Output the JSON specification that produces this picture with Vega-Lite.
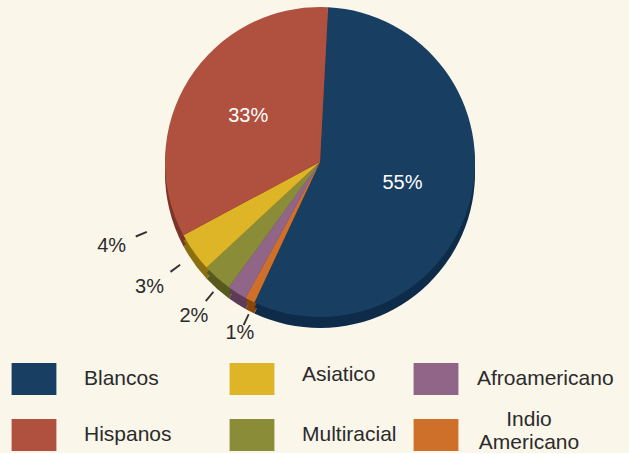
{
  "$schema": "https://vega.github.io/schema/vega-lite/v6.json",
  "width": 640,
  "height": 324,
  "padding": 0,
  "background": "#FAF6EA",
  "config": {"view": {"stroke": null}, "font": "Liberation Sans"},
  "data": {"values": [
    {"grupo": "Blancos", "value": 55, "order": 1},
    {"grupo": "Indio Americano", "value": 1, "order": 2},
    {"grupo": "Afroamericano", "value": 2, "order": 3},
    {"grupo": "Multiracial", "value": 3, "order": 4},
    {"grupo": "Asiatico", "value": 4, "order": 5},
    {"grupo": "Hispanos", "value": 33, "order": 6}
  ]},
  "transform": [
    {"window": [{"op": "sum", "field": "value", "as": "cum"}], "sort": [{"field": "order"}], "frame": [null, 0]},
    {"joinaggregate": [{"op": "sum", "field": "value", "as": "total"}]},
    {"calculate": "3 + datum.cum / datum.total * 360", "as": "a1"},
    {"calculate": "3 + (datum.cum - datum.value) / datum.total * 360", "as": "a0"},
    {"calculate": "(datum.a0 + datum.a1) / 2", "as": "mid"},
    {"calculate": "datum.value >= 10 ? datum.mid : 248 - (5 - datum.order) * 14.3", "as": "lab"},
    {"calculate": "1 / sqrt(pow(sin(datum.lab * PI / 180) / 235, 2) + pow(cos(datum.lab * PI / 180) / 182, 2))", "as": "lr"},
    {"calculate": "max(datum.lr - 38, 168)", "as": "li"},
    {"calculate": "datum.li + 12", "as": "lo"},
    {"calculate": "datum.lab - 0.3", "as": "l0"},
    {"calculate": "datum.lab + 0.3", "as": "l1"},
    {"calculate": "datum.value + '%'", "as": "txt"}
  ],
  "resolve": {"scale": {"color": "independent"}, "legend": {"color": "independent"}},
  "layer": [
    {
      "mark": {"type": "arc", "radius": 155, "yOffset": 11},
      "encoding": {
        "theta": {"field": "a0", "type": "quantitative", "scale": {"domain": [0, 360], "range": [0, 6.2832]}},
        "theta2": {"field": "a1"},
        "color": {"field": "grupo", "type": "nominal", "legend": null,
          "scale": {"domain": ["Blancos", "Asiatico", "Afroamericano", "Hispanos", "Multiracial", "Indio Americano"],
                    "range": ["#0E2C4A", "#8C7010", "#5E3C57", "#7C3428", "#565A1E", "#8A4508"]}}
      }
    },
    {
      "mark": {"type": "arc", "radius": 155, "yOffset": 5},
      "encoding": {
        "theta": {"field": "a0", "type": "quantitative", "scale": {"domain": [0, 360], "range": [0, 6.2832]}},
        "theta2": {"field": "a1"},
        "color": {"field": "grupo", "type": "nominal", "legend": null,
          "scale": {"domain": ["Blancos", "Asiatico", "Afroamericano", "Hispanos", "Multiracial", "Indio Americano"],
                    "range": ["#0E2C4A", "#8C7010", "#5E3C57", "#7C3428", "#565A1E", "#8A4508"]}}
      }
    },
    {
      "mark": {"type": "arc", "radius": 155},
      "encoding": {
        "theta": {"field": "a0", "type": "quantitative", "scale": {"domain": [0, 360], "range": [0, 6.2832]}},
        "theta2": {"field": "a1"},
        "color": {"field": "grupo", "type": "nominal",
          "scale": {"domain": ["Blancos", "Asiatico", "Afroamericano", "Hispanos", "Multiracial", "Indio Americano"],
                    "range": ["#183F62", "#DDB526", "#916588", "#B0513F", "#8A8C37", "#CE7029"]},
          "legend": {
            "title": null, "orient": "none", "legendX": 18, "legendY": 362,
            "columns": 3, "direction": "horizontal", "gridAlign": "all",
            "symbolType": "M-1.4,-1H1.4V1H-1.4Z", "symbolSize": 1024, "symbolStrokeWidth": 0, "symbolOpacity": 1,
            "labelFontSize": 21, "labelColor": "#2b2b2b", "labelOffset": 34, "labelLimit": 300,
            "rowPadding": 13, "columnPadding": 0,
            "labelExpr": "datum.label == 'Indio Americano' ? ['Indio', 'Americano'] : datum.label",
            "encode": {
              "symbols": {"update": {
                "x": {"signal": "datum.value === 'Asiatico' || datum.value === 'Multiracial' ? 33 : 16"}
              }},
              "labels": {"update": {
                "dy": {"signal": "datum.value === 'Indio Americano' ? -15 : (datum.value === 'Asiatico' ? -4 : 0)"},
                "dx": {"signal": "datum.value === 'Indio Americano' ? 43 : (datum.value === 'Afroamericano' ? -9 : (datum.value === 'Asiatico' || datum.value === 'Multiracial' ? 17 : 0))"},
                "align": {"signal": "datum.value === 'Indio Americano' ? 'center' : 'left'"}
              }}
            }
          }}
      }
    },
    {
      "transform": [{"filter": "datum.value < 10"}],
      "mark": {"type": "arc", "color": "#333333"},
      "encoding": {
        "theta": {"field": "l0", "type": "quantitative", "scale": {"domain": [0, 360], "range": [0, 6.2832]}},
        "theta2": {"field": "l1"},
        "radius": {"field": "lo", "type": "quantitative", "scale": null},
        "radius2": {"field": "li"}
      }
    },
    {
      "transform": [{"filter": "datum.value >= 10"}],
      "mark": {"type": "text", "radius": 85, "fontSize": 20, "color": "#FFFFFF"},
      "encoding": {
        "theta": {"field": "lab", "type": "quantitative", "stack": null, "scale": {"domain": [0, 360], "range": [0, 6.2832]}},
        "text": {"field": "txt"}
      }
    },
    {
      "transform": [{"filter": "datum.value < 10"}],
      "mark": {"type": "text", "fontSize": 20, "color": "#2b2b2b"},
      "encoding": {
        "theta": {"field": "lab", "type": "quantitative", "stack": null, "scale": {"domain": [0, 360], "range": [0, 6.2832]}},
        "radius": {"field": "lr", "type": "quantitative", "scale": null},
        "text": {"field": "txt"}
      }
    }
  ]
}
